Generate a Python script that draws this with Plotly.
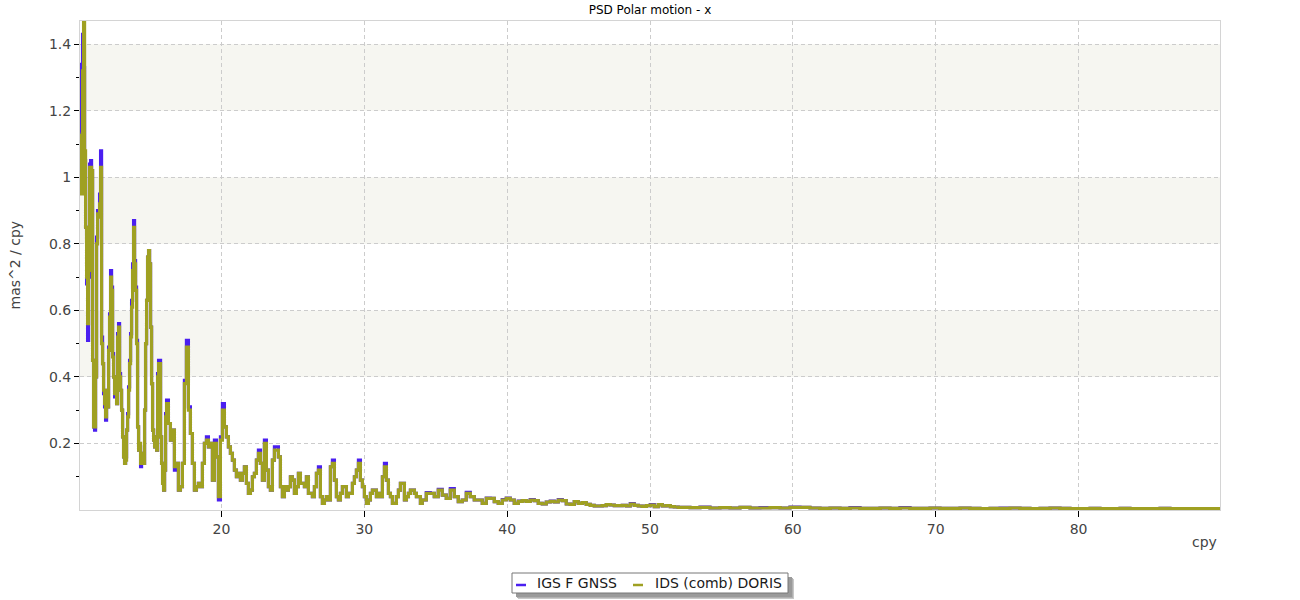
import numpy as np
import plotly.graph_objects as go

# ---------------- data ----------------
series_names = ["IGS F GNSS", "IDS (comb) DORIS"]

# frequency grid segments (cpy): start, step
seg_start = [10.14, 16.29, 34.06, 52.80]
seg_step = [0.07, 0.14, 0.28, 0.70]

doris_seg1 = [1.13, 0.95, 1.32, 1.47, 1.08, 0.85, 0.70, 0.56, 0.72, 1.03,
              1.03, 1.02, 0.45, 0.25, 0.25, 0.40, 0.80, 0.89, 0.88, 0.92,
              1.03, 0.50, 0.44, 0.36, 0.32, 0.28, 0.36, 0.31, 0.48, 0.58,
              0.70, 0.66, 0.46, 0.40, 0.35, 0.37, 0.32, 0.52, 0.55, 0.40,
              0.36, 0.30, 0.22, 0.16, 0.14, 0.15, 0.24, 0.28, 0.36, 0.44,
              0.52, 0.61, 0.72, 0.85, 0.74, 0.66, 0.50, 0.25, 0.18, 0.20,
              0.14, 0.17, 0.16, 0.14, 0.30, 0.50, 0.63, 0.76, 0.78, 0.74,
              0.55, 0.38, 0.24, 0.21, 0.19, 0.22, 0.18, 0.40, 0.44, 0.44,
              0.22, 0.14, 0.08, 0.06, 0.12, 0.28, 0.32, 0.32]
igs_seg1 = [1.12, 1.34, 1.43, 1.33, 1.05, 0.85, 0.68, 0.51, 0.70, 1.04,
            1.05, 1.02, 0.45, 0.25, 0.24, 0.40, 0.82, 0.90, 0.89, 0.95,
            1.08, 0.52, 0.44, 0.35, 0.31, 0.27, 0.36, 0.31, 0.49, 0.59,
            0.72, 0.67, 0.47, 0.40, 0.34, 0.37, 0.32, 0.53, 0.56, 0.41,
            0.36, 0.30, 0.22, 0.16, 0.14, 0.16, 0.24, 0.29, 0.37, 0.45,
            0.53, 0.63, 0.74, 0.87, 0.75, 0.67, 0.51, 0.25, 0.18, 0.19,
            0.13, 0.17, 0.16, 0.14, 0.30, 0.50, 0.63, 0.76, 0.78, 0.74,
            0.55, 0.38, 0.24, 0.21, 0.19, 0.22, 0.18, 0.41, 0.45, 0.45,
            0.22, 0.14, 0.08, 0.06, 0.12, 0.29, 0.33, 0.33]

doris_seg2 = [0.26, 0.21, 0.24, 0.13, 0.14, 0.06, 0.07, 0.14, 0.38, 0.49,
              0.30, 0.23, 0.14, 0.06, 0.07, 0.08, 0.07, 0.14, 0.20, 0.21,
              0.19, 0.20, 0.09, 0.20, 0.16, 0.04, 0.21, 0.30, 0.25, 0.22,
              0.19, 0.17, 0.15, 0.12, 0.10, 0.11, 0.09, 0.11, 0.13, 0.08,
              0.05, 0.06, 0.10, 0.11, 0.15, 0.17, 0.14, 0.09, 0.20, 0.12,
              0.07, 0.06, 0.15, 0.18, 0.18, 0.16, 0.07, 0.04, 0.07, 0.06,
              0.07, 0.10, 0.09, 0.05, 0.07, 0.11, 0.08, 0.08, 0.07, 0.10,
              0.05, 0.05, 0.04, 0.07, 0.11, 0.12, 0.04, 0.02, 0.03, 0.04,
              0.03, 0.13, 0.14, 0.09, 0.04, 0.03, 0.05, 0.07, 0.07, 0.04,
              0.05, 0.05, 0.08, 0.10, 0.12, 0.14, 0.09, 0.07, 0.04, 0.02,
              0.03, 0.05, 0.06, 0.06, 0.04, 0.05, 0.04, 0.10, 0.13, 0.09,
              0.05, 0.04, 0.02, 0.02, 0.04, 0.06, 0.08, 0.08, 0.03, 0.04,
              0.05, 0.06, 0.06, 0.05, 0.04, 0.04, 0.02]
igs_seg2 = [0.26, 0.21, 0.24, 0.12, 0.14, 0.06, 0.07, 0.14, 0.39, 0.51,
            0.31, 0.23, 0.14, 0.06, 0.07, 0.08, 0.07, 0.14, 0.20, 0.22,
            0.19, 0.20, 0.09, 0.21, 0.16, 0.03, 0.22, 0.32, 0.25, 0.22,
            0.19, 0.17, 0.15, 0.12, 0.10, 0.11, 0.09, 0.11, 0.13, 0.08,
            0.05, 0.06, 0.10, 0.11, 0.15, 0.18, 0.14, 0.09, 0.21, 0.12,
            0.07, 0.06, 0.15, 0.19, 0.19, 0.16, 0.07, 0.04, 0.07, 0.06,
            0.07, 0.10, 0.09, 0.05, 0.07, 0.11, 0.08, 0.08, 0.07, 0.10,
            0.05, 0.05, 0.04, 0.07, 0.11, 0.13, 0.04, 0.02, 0.03, 0.04,
            0.03, 0.13, 0.15, 0.09, 0.04, 0.03, 0.05, 0.07, 0.07, 0.04,
            0.05, 0.05, 0.08, 0.10, 0.12, 0.15, 0.09, 0.07, 0.04, 0.02,
            0.03, 0.05, 0.06, 0.06, 0.04, 0.05, 0.04, 0.10, 0.14, 0.09,
            0.05, 0.04, 0.02, 0.02, 0.04, 0.06, 0.08, 0.08, 0.03, 0.04,
            0.05, 0.06, 0.06, 0.05, 0.04, 0.04, 0.02]

doris_seg3 = [0.030, 0.050, 0.050, 0.040, 0.060, 0.045, 0.035, 0.060, 0.040, 0.025,
              0.030, 0.050, 0.040, 0.030, 0.030, 0.020, 0.035, 0.035, 0.025, 0.020,
              0.030, 0.035, 0.030, 0.020, 0.026, 0.028, 0.026, 0.030, 0.028, 0.020,
              0.018, 0.024, 0.026, 0.024, 0.030, 0.028, 0.018, 0.017, 0.025, 0.020,
              0.022, 0.017, 0.014, 0.012, 0.012, 0.013, 0.016, 0.015, 0.013, 0.013,
              0.014, 0.012, 0.018, 0.014, 0.012, 0.011, 0.013, 0.015, 0.010, 0.016,
              0.012, 0.013, 0.010, 0.009, 0.008]
igs_seg3 = [0.030, 0.052, 0.050, 0.040, 0.062, 0.045, 0.035, 0.064, 0.040, 0.025,
            0.030, 0.053, 0.040, 0.030, 0.030, 0.020, 0.036, 0.035, 0.025, 0.020,
            0.031, 0.036, 0.030, 0.020, 0.027, 0.028, 0.026, 0.031, 0.028, 0.020,
            0.018, 0.024, 0.027, 0.024, 0.031, 0.028, 0.018, 0.017, 0.025, 0.020,
            0.022, 0.017, 0.014, 0.012, 0.012, 0.013, 0.016, 0.015, 0.013, 0.013,
            0.014, 0.012, 0.019, 0.014, 0.012, 0.011, 0.013, 0.016, 0.010, 0.016,
            0.012, 0.013, 0.010, 0.009, 0.008]

doris_seg4 = [0.007, 0.008, 0.006, 0.007, 0.006, 0.008, 0.006, 0.006, 0.007, 0.006,
              0.008, 0.008, 0.006, 0.005, 0.006, 0.005, 0.006, 0.005, 0.005, 0.006,
              0.005, 0.006, 0.005, 0.005, 0.006, 0.005, 0.005, 0.006, 0.005, 0.004,
              0.005, 0.005, 0.006, 0.005, 0.004, 0.005, 0.006, 0.005, 0.004, 0.004,
              0.005, 0.004, 0.004, 0.005, 0.004, 0.004, 0.004, 0.005, 0.004, 0.004,
              0.004, 0.004, 0.004, 0.004]
igs_seg4 = [0.007, 0.009, 0.006, 0.007, 0.006, 0.008, 0.006, 0.007, 0.007, 0.006,
            0.009, 0.008, 0.006, 0.005, 0.006, 0.005, 0.007, 0.005, 0.005, 0.006,
            0.005, 0.007, 0.005, 0.005, 0.006, 0.005, 0.005, 0.006, 0.005, 0.004,
            0.005, 0.006, 0.006, 0.005, 0.004, 0.005, 0.006, 0.005, 0.004, 0.004,
            0.005, 0.004, 0.004, 0.005, 0.004, 0.004, 0.004, 0.005, 0.004, 0.004,
            0.004, 0.004, 0.004, 0.004]

y_tick_vals = [0.2, 0.4, 0.6, 0.8, 1.0, 1.2, 1.4]
x_tick_vals = [20, 30, 40, 50, 60, 70, 80]
band_ranges = [(0.4, 0.6), (0.8, 1.0), (1.2, 1.4)]

# ---------------- build ----------------
def build(segs):
    f, v = [], []
    for s0, ds, vals in zip(seg_start, seg_step, segs):
        f.extend((s0 + ds * np.arange(len(vals))).tolist())
        v.extend(vals)
    return f, v

f_igs, v_igs = build([igs_seg1, igs_seg2, igs_seg3, igs_seg4])
f_dor, v_dor = build([doris_seg1, doris_seg2, doris_seg3, doris_seg4])

BLUE = "#4a1ff0"
OLIVE = "#9fa022"
COLORS = [BLUE, OLIVE]
FONT = "DejaVu Sans, Verdana, sans-serif"

# plot area in pixels: x 80..1220, y 21..510
L, R, T, B = 80, 1220, 21, 510
def px(xp):
    return (xp - L) / (R - L)
def py(yp):
    return (B - yp) / (B - T)

fig = go.Figure()
fig.add_trace(go.Scatter(x=f_igs, y=v_igs, mode="lines", name=series_names[0],
                         line=dict(color=BLUE, width=3.2, shape="hv"), showlegend=False))
fig.add_trace(go.Scatter(x=f_dor, y=v_dor, mode="lines", name=series_names[1],
                         line=dict(color=OLIVE, width=3.2, shape="hv"), showlegend=False))

for lo, hi in band_ranges:
    fig.add_shape(type="rect", xref="paper", yref="y", x0=0, x1=1, y0=lo, y1=hi,
                  fillcolor="#f6f6f1", line=dict(width=0), layer="below")

# ---- custom legend box with drop shadow ----
shadow = [("#c8c8c8", 6), ("#b0b0b0", 5), ("#9a9a9a", 4)]
for col, off in shadow:
    fig.add_shape(type="rect", xref="paper", yref="paper",
                  x0=px(512 + off), x1=px(788 + off), y0=py(593 + off), y1=py(573 + off),
                  fillcolor=col, line=dict(width=0), layer="above")
fig.add_shape(type="rect", xref="paper", yref="paper",
              x0=px(512), x1=px(788), y0=py(593), y1=py(573),
              fillcolor="white", line=dict(color="#777", width=1), layer="above")

legend_sym_x = [516, 633]
legend_txt_x = [535, 653]
annotations = []
for name, col, sx, tx in zip(series_names, COLORS, legend_sym_x, legend_txt_x):
    fig.add_shape(type="line", xref="paper", yref="paper",
                  x0=px(sx), x1=px(sx + 10), y0=py(585), y1=py(585),
                  line=dict(color=col, width=2.5), layer="above")
    annotations.append(dict(text=name, xref="paper", yref="paper", x=px(tx), y=py(583),
                            showarrow=False, xanchor="left", yanchor="middle",
                            font=dict(size=14, color="#1a1a1a", family=FONT)))

annotations += [
    dict(text="mas^2 / cpy", xref="paper", yref="paper", x=px(14), y=0.5,
         textangle=-90, showarrow=False, xanchor="center", yanchor="middle",
         font=dict(size=14, color="#444", family=FONT)),
    dict(text="cpy", xref="paper", yref="paper", x=0.9995, y=-0.045,
         showarrow=False, xanchor="right", yanchor="top",
         font=dict(size=14, color="#444", family=FONT)),
]

GRID_DASH = "4px,3px"
fig.update_layout(
    width=1300, height=600,
    paper_bgcolor="white", plot_bgcolor="white",
    margin=dict(l=L, r=1300 - R, t=T, b=600 - B),
    font=dict(family=FONT, size=13, color="#444"),
    title=dict(text="PSD Polar motion - x", x=0.5, xanchor="center",
               y=0.983, yanchor="middle", font=dict(size=12, color="#000", family=FONT)),
    showlegend=False,
    xaxis=dict(range=[10.1, 89.9], tickmode="array", tickvals=x_tick_vals,
               ticks="outside", ticklen=6, tickcolor="#000", tickwidth=1,
               showgrid=True, gridcolor="#cccccc", griddash=GRID_DASH, gridwidth=1,
               showline=True, linecolor="#d4d4d4", linewidth=1, mirror=True,
               zeroline=False, automargin=False, tickfont=dict(size=14, color="#444")),
    yaxis=dict(range=[0, 1.47], tickmode="array", tickvals=y_tick_vals,
               ticktext=[("%g" % v) for v in y_tick_vals],
               ticks="outside", ticklen=5, tickcolor="#000", tickwidth=1,
               minor=dict(tickmode="linear", tick0=0.1, dtick=0.2, ticks="outside",
                          ticklen=3, tickcolor="#000", showgrid=False),
               showgrid=True, gridcolor="#cccccc", griddash=GRID_DASH, gridwidth=1,
               showline=True, linecolor="#d4d4d4", linewidth=1, mirror=True,
               zeroline=False, automargin=False, tickfont=dict(size=14, color="#444")),
    annotations=annotations,
)

fig.write_html("out.html", config={"displayModeBar": False},
               post_script="document.body.style.margin='0';")
